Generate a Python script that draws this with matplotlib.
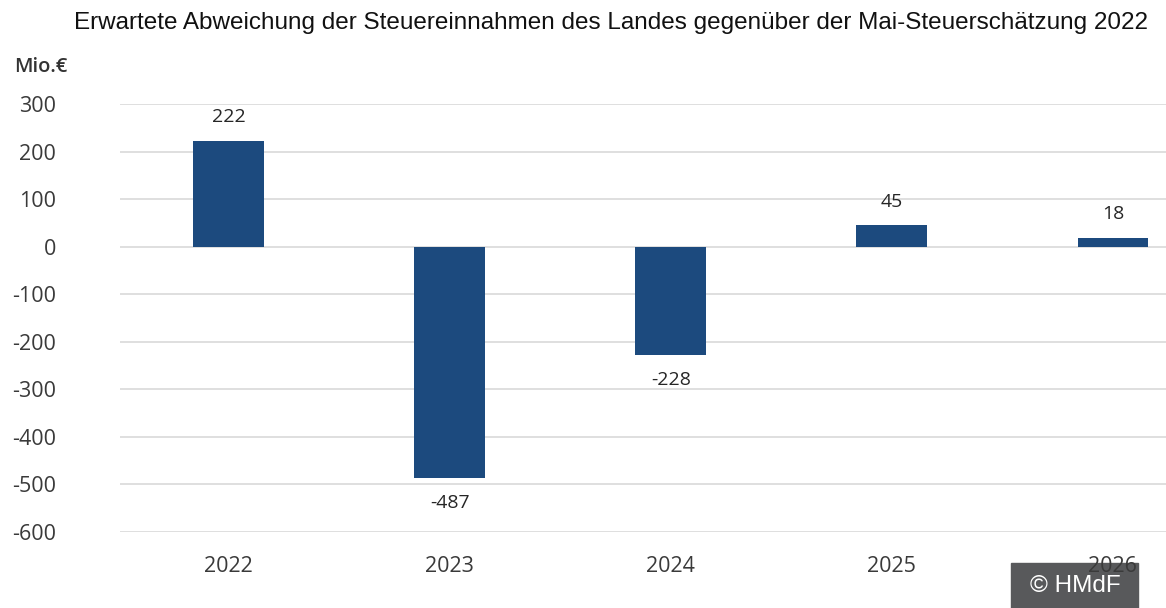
import matplotlib.pyplot as plt
from matplotlib.patches import Rectangle

years = ['2022', '2023', '2024', '2025', '2026']
abweichung = [222, -487, -228, 45, 18]
yticks = [300, 200, 100, 0, -100, -200, -300, -400, -500, -600]

fig = plt.figure(figsize=(11.66, 6.08), dpi=100)
ax = fig.add_axes([0.103, 0.125, 0.897, 0.704])
ax.set_facecolor('none')

x = range(len(years))
bars = ax.bar(x, abweichung, width=0.32, color='#1c4a7e', zorder=3)

for xi, v in zip(x, abweichung):
    off = 17 if v >= 0 else -18
    ax.annotate(str(v), (xi, v), xytext=(0, off), textcoords='offset points',
                ha='center', va='center', fontsize=14, color='#262626',
                family='Open Sans')

ax.set_ylim(-600, 300)
ax.set_xlim(-0.49, 4.24)
ax.set_yticks(yticks)
ax.set_yticklabels([str(t) for t in yticks], family='Open Sans', fontsize=15.5, color='#3a3a3a')
ax.set_xticks(list(x))
ax.set_xticklabels(years, family='Open Sans', fontsize=15.5, color='#3a3a3a')
ax.tick_params(axis='y', length=0, pad=46)
ax.tick_params(axis='x', length=0, pad=17)
ax.grid(axis='y', color='#d9d9d9', linewidth=1.2, zorder=0)
for s in ax.spines.values():
    s.set_visible(False)

fig.text(611 / 1166, 0.962, 'Erwartete Abweichung der Steuereinnahmen des Landes gegenüber der Mai-Steuerschätzung 2022',
         ha='center', va='center', fontsize=17.5, family='Liberation Sans', color='#111111')
fig.text(0.012, 0.889, 'Mio.€', ha='left', va='center', fontsize=14.5,
         family='Open Sans', fontweight='semibold', color='#333333')

fig.patches.append(Rectangle((1011 / 1166, 0), 127 / 1166, 45 / 608,
                             transform=fig.transFigure, color='#58595b', zorder=-1))
fig.text(1075 / 1166, 22 / 608, '© HMdF', ha='center', va='center', fontsize=17.5,
         family='Liberation Sans', color='white', zorder=-0.5)

fig.savefig('out.png', dpi=100)
